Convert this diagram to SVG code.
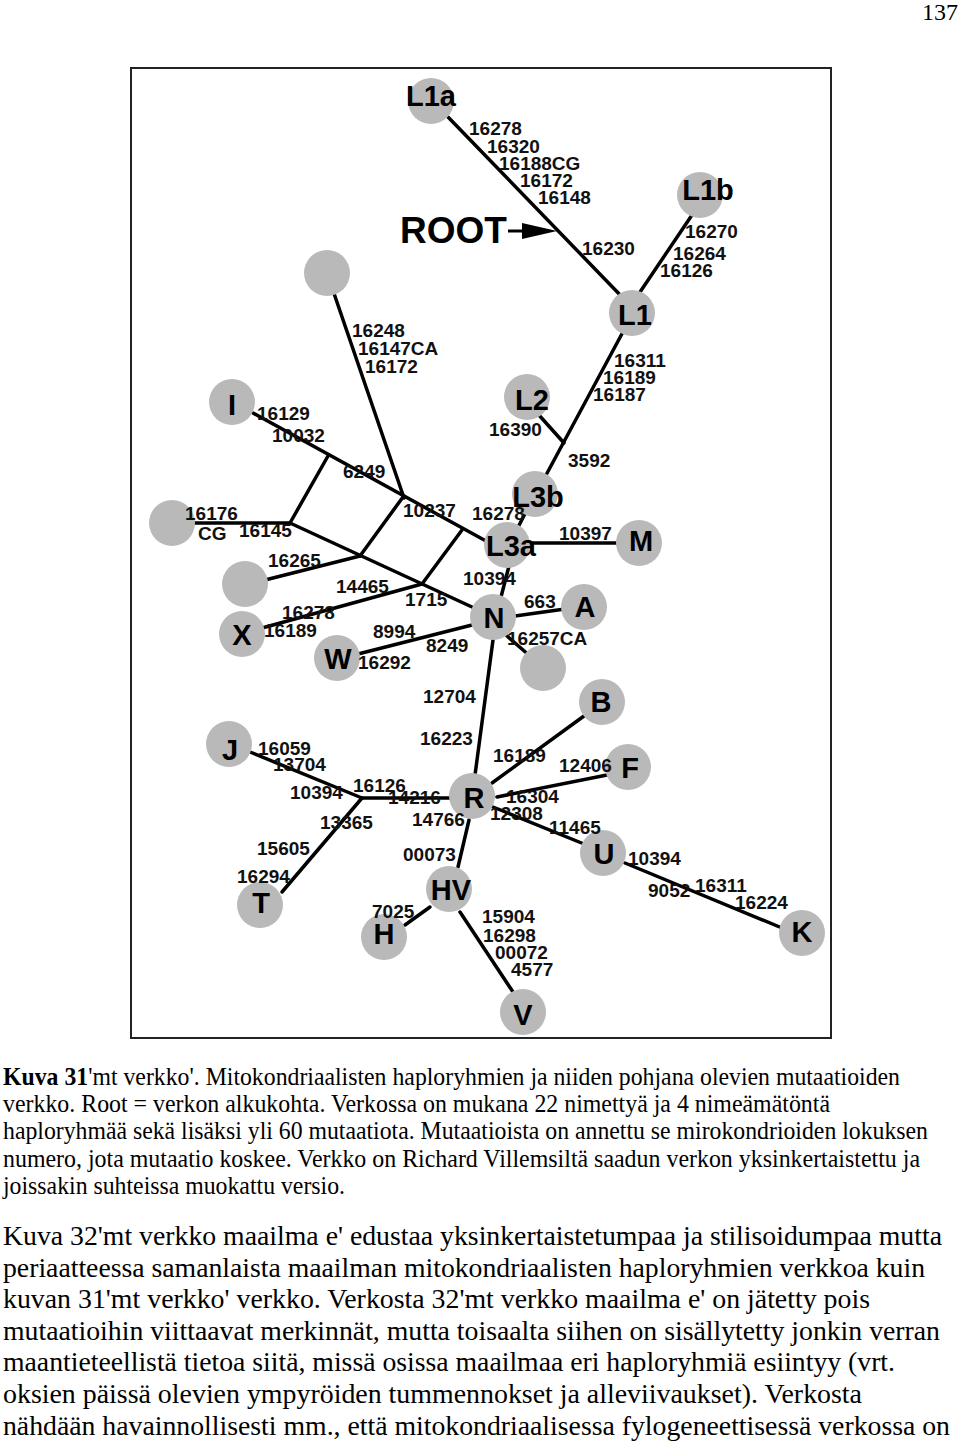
<svg xmlns="http://www.w3.org/2000/svg" width="960" height="1448" viewBox="0 0 960 1448">
<defs>
<style>
.c{fill:#b9b9b9}
.e{stroke:#000;stroke-width:3.5;fill:none;stroke-linecap:round}
.m{font-family:"Liberation Sans",Arial,sans-serif;font-weight:bold;font-size:19px;fill:#111}
.n{font-family:"Liberation Sans",Arial,sans-serif;font-weight:bold;font-size:29px;fill:#000;text-anchor:middle}
.p{font-family:"Liberation Serif","Times New Roman",serif;fill:#000}
</style>
</defs>
<rect width="960" height="1448" fill="#fff"/>
<text class="p" x="958" y="20" font-size="24" text-anchor="end">137</text>
<rect x="131" y="68" width="700" height="970" fill="none" stroke="#222" stroke-width="2"/>
<g id="connectors" class="e">
<line x1="448" y1="117" x2="625" y2="300"/>
<line x1="692" y1="215" x2="636" y2="298"/>
<line x1="624" y1="330" x2="538" y2="490"/>
<line x1="538" y1="414" x2="564" y2="443"/>
<line x1="535" y1="494" x2="510" y2="543"/>
<line x1="530" y1="543" x2="620" y2="543"/>
<line x1="509" y1="566" x2="501" y2="597"/>
<line x1="515" y1="616" x2="565" y2="609"/>
<line x1="507" y1="636" x2="530" y2="656"/>
<line x1="493" y1="640" x2="475" y2="775"/>
<line x1="253" y1="413" x2="486" y2="541"/>
<line x1="290" y1="523" x2="472" y2="607"/>
<line x1="195" y1="523" x2="290" y2="523"/>
<line x1="328" y1="456" x2="290" y2="523"/>
<line x1="403" y1="497" x2="360" y2="556"/>
<line x1="462" y1="530" x2="422" y2="584"/>
<line x1="327" y1="273" x2="404" y2="498"/>
<line x1="265" y1="580" x2="360" y2="556"/>
<line x1="262" y1="628" x2="422" y2="584"/>
<line x1="358" y1="654" x2="472" y2="625"/>
<line x1="250" y1="752" x2="362" y2="798"/>
<line x1="362" y1="798" x2="452" y2="798"/>
<line x1="362" y1="798" x2="282" y2="892"/>
<line x1="492" y1="783" x2="584" y2="716"/>
<line x1="497" y1="797" x2="607" y2="775"/>
<line x1="493" y1="807" x2="584" y2="844"/>
<line x1="469" y1="820" x2="458" y2="867"/>
<line x1="430" y1="907" x2="405" y2="925"/>
<line x1="460" y1="912" x2="513" y2="992"/>
<line x1="625" y1="863" x2="782" y2="928"/>
</g>
<g id="root-arrow">
<text x="400" y="243" font-family="Liberation Sans,Arial,sans-serif" font-weight="bold" font-size="37">ROOT</text>
<line x1="508" y1="231" x2="526" y2="231" stroke="#000" stroke-width="3"/>
<polygon points="522,223 557,231 522,239" fill="#000"/>
</g>
<g id="node-L1a"><circle class="c" cx="431" cy="101" r="23"/><text class="n" x="431" y="106">L1a</text></g>
<g id="node-L1b"><circle class="c" cx="700" cy="195" r="23"/><text class="n" x="708" y="200">L1b</text></g>
<g id="node-L1"><circle class="c" cx="632" cy="313" r="23"/><text class="n" x="635" y="325">L1</text></g>
<g id="node-u1"><circle class="c" cx="327" cy="273" r="23"/></g>
<g id="node-I"><circle class="c" cx="232" cy="402" r="23"/><text class="n" x="232" y="415">I</text></g>
<g id="node-L2"><circle class="c" cx="527" cy="397" r="23"/><text class="n" x="532" y="410">L2</text></g>
<g id="node-L3b"><circle class="c" cx="535" cy="494" r="23"/><text class="n" x="538" y="507">L3b</text></g>
<g id="node-L3a"><circle class="c" cx="507" cy="545" r="23"/><text class="n" x="511" y="556">L3a</text></g>
<g id="node-M"><circle class="c" cx="639" cy="543" r="23"/><text class="n" x="641" y="551">M</text></g>
<g id="node-u2"><circle class="c" cx="172" cy="523" r="23"/></g>
<g id="node-u3"><circle class="c" cx="245" cy="584" r="23"/></g>
<g id="node-X"><circle class="c" cx="242" cy="634" r="23"/><text class="n" x="242" y="645">X</text></g>
<g id="node-W"><circle class="c" cx="337" cy="658" r="23"/><text class="n" x="338" y="669">W</text></g>
<g id="node-N"><circle class="c" cx="493" cy="617" r="23"/><text class="n" x="494" y="628">N</text></g>
<g id="node-A"><circle class="c" cx="584" cy="607" r="23"/><text class="n" x="585" y="617">A</text></g>
<g id="node-u4"><circle class="c" cx="543" cy="668" r="23"/></g>
<g id="node-B"><circle class="c" cx="602" cy="702" r="23"/><text class="n" x="601" y="712">B</text></g>
<g id="node-F"><circle class="c" cx="628" cy="767" r="23"/><text class="n" x="630" y="778">F</text></g>
<g id="node-J"><circle class="c" cx="229" cy="744" r="23"/><text class="n" x="230" y="760">J</text></g>
<g id="node-R"><circle class="c" cx="472" cy="796" r="23"/><text class="n" x="474" y="808">R</text></g>
<g id="node-U"><circle class="c" cx="603" cy="853" r="23"/><text class="n" x="604" y="864">U</text></g>
<g id="node-K"><circle class="c" cx="802" cy="933" r="23"/><text class="n" x="802" y="942">K</text></g>
<g id="node-T"><circle class="c" cx="260" cy="905" r="23"/><text class="n" x="261" y="913">T</text></g>
<g id="node-HV"><circle class="c" cx="449" cy="889" r="23"/><text class="n" x="451" y="900">HV</text></g>
<g id="node-H"><circle class="c" cx="384" cy="937" r="23"/><text class="n" x="384" y="944">H</text></g>
<g id="node-V"><circle class="c" cx="523" cy="1012" r="23"/><text class="n" x="523" y="1025">V</text></g>
<g id="labels" class="m">
<text x="469" y="135">16278</text>
<text x="487" y="153">16320</text>
<text x="499" y="170">16188CG</text>
<text x="520" y="187">16172</text>
<text x="538" y="204">16148</text>
<text x="582" y="255">16230</text>
<text x="685" y="238">16270</text>
<text x="673" y="260">16264</text>
<text x="660" y="277">16126</text>
<text x="352" y="337">16248</text>
<text x="358" y="355">16147CA</text>
<text x="365" y="373">16172</text>
<text x="614" y="367">16311</text>
<text x="603" y="384">16189</text>
<text x="593" y="401">16187</text>
<text x="489" y="436">16390</text>
<text x="568" y="467">3592</text>
<text x="257" y="420">16129</text>
<text x="272" y="442">10032</text>
<text x="343" y="478">6249</text>
<text x="403" y="517">10237</text>
<text x="472" y="520">16278</text>
<text x="185" y="520">16176</text>
<text x="198" y="540">CG</text>
<text x="239" y="537">16145</text>
<text x="268" y="567">16265</text>
<text x="336" y="593">14465</text>
<text x="405" y="606">1715</text>
<text x="282" y="619">16278</text>
<text x="264" y="637">16189</text>
<text x="373" y="638">8994</text>
<text x="426" y="652">8249</text>
<text x="358" y="669">16292</text>
<text x="559" y="540">10397</text>
<text x="463" y="585">10394</text>
<text x="524" y="608">663</text>
<text x="507" y="645">16257CA</text>
<text x="423" y="703">12704</text>
<text x="420" y="745">16223</text>
<text x="258" y="755">16059</text>
<text x="273" y="771">13704</text>
<text x="290" y="799">10394</text>
<text x="353" y="792">16126</text>
<text x="388" y="804">14216</text>
<text x="320" y="829">13365</text>
<text x="257" y="855">15605</text>
<text x="237" y="883">16294</text>
<text x="412" y="826">14766</text>
<text x="403" y="861">00073</text>
<text x="372" y="918">7025</text>
<text x="493" y="762">16189</text>
<text x="559" y="772">12406</text>
<text x="506" y="803">16304</text>
<text x="490" y="820">12308</text>
<text x="549" y="834">11465</text>
<text x="628" y="865">10394</text>
<text x="648" y="897">9052</text>
<text x="695" y="892">16311</text>
<text x="735" y="909">16224</text>
<text x="482" y="923">15904</text>
<text x="483" y="942">16298</text>
<text x="495" y="959">00072</text>
<text x="511" y="976">4577</text>
</g>
<g id="caption" class="p" font-size="25">
<text x="3" y="1085" textLength="897" lengthAdjust="spacingAndGlyphs"><tspan font-weight="bold">Kuva 31</tspan>'mt verkko'. Mitokondriaalisten haploryhmien ja niiden pohjana olevien mutaatioiden</text>
<text x="3" y="1112" textLength="827" lengthAdjust="spacingAndGlyphs">verkko. Root = verkon alkukohta. Verkossa on mukana 22 nimettyä ja 4 nimeämätöntä</text>
<text x="3" y="1139" textLength="925" lengthAdjust="spacingAndGlyphs">haploryhmää sekä lisäksi yli 60 mutaatiota. Mutaatioista on annettu se mirokondrioiden lokuksen</text>
<text x="3" y="1167" textLength="917" lengthAdjust="spacingAndGlyphs">numero, jota mutaatio koskee. Verkko on Richard Villemsiltä saadun verkon yksinkertaistettu ja</text>
<text x="3" y="1194" textLength="342" lengthAdjust="spacingAndGlyphs">joissakin suhteissa muokattu versio.</text>
</g>
<g id="body" class="p" font-size="28">
<text x="3" y="1245" textLength="939" lengthAdjust="spacingAndGlyphs">Kuva 32'mt verkko maailma e' edustaa yksinkertaistetumpaa ja stilisoidumpaa mutta</text>
<text x="3" y="1277" textLength="922" lengthAdjust="spacingAndGlyphs">periaatteessa samanlaista maailman mitokondriaalisten haploryhmien verkkoa kuin</text>
<text x="3" y="1308" textLength="867" lengthAdjust="spacingAndGlyphs">kuvan 31'mt verkko' verkko. Verkosta 32'mt verkko maailma e' on jätetty pois</text>
<text x="3" y="1340" textLength="937" lengthAdjust="spacingAndGlyphs">mutaatioihin viittaavat merkinnät, mutta toisaalta siihen on sisällytetty jonkin verran</text>
<text x="3" y="1371" textLength="892" lengthAdjust="spacingAndGlyphs">maantieteellistä tietoa siitä, missä osissa maailmaa eri haploryhmiä esiintyy (vrt.</text>
<text x="3" y="1403" textLength="859" lengthAdjust="spacingAndGlyphs">oksien päissä olevien ympyröiden tummennokset ja alleviivaukset). Verkosta</text>
<text x="3" y="1435" textLength="947" lengthAdjust="spacingAndGlyphs">nähdään havainnollisesti mm., että mitokondriaalisessa fylogeneettisessä verkossa on</text>
</g>
</svg>
